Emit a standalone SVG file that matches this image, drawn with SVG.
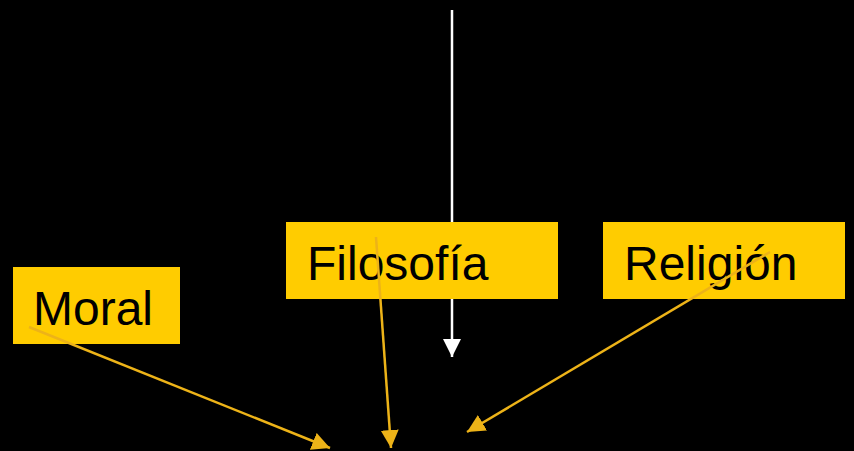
<svg xmlns="http://www.w3.org/2000/svg" width="854" height="451" viewBox="0 0 854 451">
<style>
.box{fill:#FFCC00}
.lbl{font-family:"Liberation Sans",Arial,sans-serif;font-size:48px;fill:#000}
.ya{stroke:#EDB318;stroke-width:2.5;fill:none}
.wa{stroke:#FFFFFF;stroke-width:2.5;fill:none}
</style>
<defs>
<marker id="ay" markerUnits="userSpaceOnUse" markerWidth="18" markerHeight="18" refX="16" refY="8" orient="auto" viewBox="0 0 16 16">
<path d="M0,0 L16,8 L0,16 Z" fill="#EDB318"/>
</marker>
<marker id="aw" markerUnits="userSpaceOnUse" markerWidth="18" markerHeight="18" refX="16" refY="8" orient="auto" viewBox="0 0 16 16">
<path d="M0,0 L16,8 L0,16 Z" fill="#FFFFFF"/>
</marker>
</defs>
<rect width="854" height="451" fill="#000"/>
<g id="connectors-back">
<line class="wa" x1="452" y1="10" x2="452" y2="357" marker-end="url(#aw)"/>
</g>
<g id="moral"><rect class="box" x="13" y="267" width="167" height="77"/><text class="lbl" x="33" y="325">Moral</text></g>
<g id="filosofia"><rect class="box" x="286" y="222" width="272" height="77"/><text class="lbl" x="307" y="280">Filosofía</text></g>
<g id="religion"><rect class="box" x="603" y="222" width="242" height="77"/><text class="lbl" x="624" y="280">Religión</text></g>
<g id="connectors">
<line class="ya" x1="29" y1="327" x2="330" y2="448" stroke-width="3" marker-end="url(#ay)"/>
<line class="ya" x1="376" y1="237" x2="391" y2="448" marker-end="url(#ay)"/>
<line class="ya" x1="770" y1="252" x2="467" y2="432" marker-end="url(#ay)"/>
</g>
</svg>
